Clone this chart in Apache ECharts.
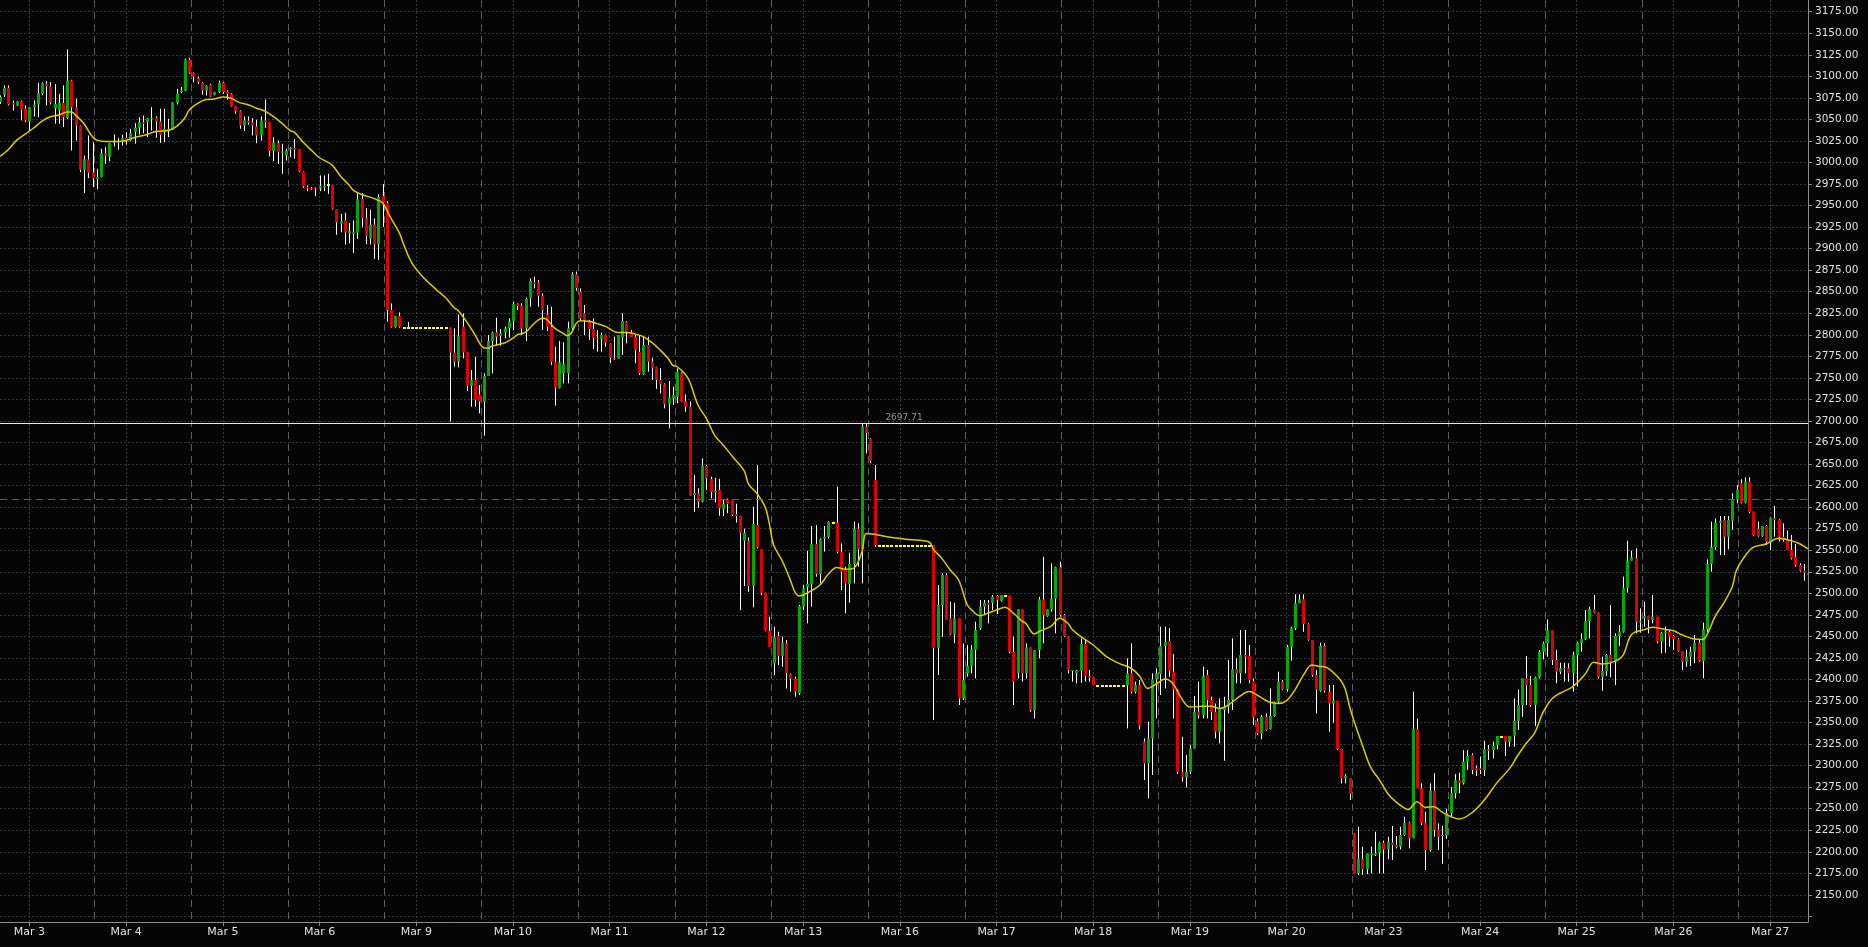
<!DOCTYPE html>
<html><head><meta charset="utf-8">
<script src="https://cdn.jsdelivr.net/npm/echarts@6.0.0/dist/echarts.min.js"></script>
<style>html,body{margin:0;padding:0;background:#050505;}#c{width:1868px;height:947px;}</style>
</head><body><div id="c"></div>
<script>
// ---- DATA ----
const dayLabels = ['Mar 3','Mar 4','Mar 5','Mar 6','Mar 9','Mar 10','Mar 11','Mar 12','Mar 13','Mar 16','Mar 17','Mar 18','Mar 19','Mar 20','Mar 23','Mar 24','Mar 25','Mar 26','Mar 27'];
const firstLabelBar = 7;   // bar index carrying the first date label
const barsPerDay = 23;     // hourly bars per session
const yTickValues = {min: 2125, max: 3175, step: 25};
const refLevel = 2697.71;  // solid white level line
const dashLevel = 2609;    // long-dash level line

// hourly bars [open, high, low, close]
const LD1 = [2808.3,2808.3,2808.3,2808.3];
const LD2 = [2555.2,2555.2,2555.2,2555.2];
const LD3 = [2392.4,2392.4,2392.4,2392.4];
const bars = [
// session 0 (Mar 3)
[3070,3077.8,3068.1,3075.9],[3078.9,3089.4,3075.9,3086.7],[3086.7,3089.4,3066.2,3067.3],[3068.9,3072,3060.4,3067.3],
[3066.2,3071.5,3065.5,3070.8],[3070.8,3072,3048.8,3061.1],[3062.3,3066.2,3046.8,3048.8],[3047.6,3064.5,3036.4,3064.2],
[3064.2,3072,3053.4,3067.3],[3067.3,3092.5,3052.6,3080.5],[3079.7,3092.9,3078,3092.1],[3091.3,3094.4,3066.2,3088.6],
[3088.2,3093.3,3067.3,3070],[3063,3091,3045,3068],[3060.4,3079.7,3044.9,3069.7],[3068.9,3089.4,3041,3052.6],
[3051.5,3131.2,3050.3,3095.2],[3095.2,3096,3013.9,3064.2],[3064.2,3073.9,3025.5,3043],[3042.2,3043,2988.8,2991.5],
[2991.5,3008.1,2964.4,3003.5],[3003.5,3031.3,2981.8,2988],[2988.8,3023.6,2971.4,2981.8],
// session 1 (Mar 4)
[2981,2992.6,2969,2983],[2983,3015.9,2983,3010.8],[3010.1,3017.8,2998.4,3008.1],[3007,3022.8,3001.5,3022.4],
[3023.6,3032.5,3018.6,3025.5],[3024.8,3028.6,3014.7,3023.6],[3024.8,3032.1,3019.7,3028.3],[3028.3,3035.2,3020.9,3025.5],
[3025.5,3039.1,3024.4,3034.1],[3035.6,3045.7,3021.7,3040.2],[3040.2,3052.6,3032.5,3046.8],[3046.8,3054.4,3034.1,3044.9],
[3046.8,3051.5,3029.4,3051.1],[3050.7,3064.2,3037.1,3051.9],[3051.9,3053.4,3028.6,3047.6],[3047.6,3062.3,3022.8,3032.1],
[3035.2,3062.3,3023.6,3039.1],[3037.9,3050.7,3029.4,3039.1],[3038.7,3070,3037.9,3069.7],[3069.7,3085.5,3067.3,3079.7],
[3081.7,3087.5,3080.5,3083.6],[3083.6,3120.4,3082.8,3119.2],[3119.2,3121.5,3102.9,3104.1],
// session 2 (Mar 5)
[3104.1,3104.5,3093,3099.8],[3097.9,3099.8,3091.3,3093.3],[3092.5,3093.3,3078.9,3083.6],[3083.6,3089.4,3077.8,3089.4],
[3090.2,3091.3,3075.9,3076.6],[3078.6,3082,3078,3081.7],[3081.7,3095.2,3080.5,3092.5],[3092.5,3093.3,3079.7,3081.7],
[3082.4,3083.6,3072.8,3079.7],[3079.7,3080.5,3065,3065.4],[3065,3065,3056.5,3059.6],[3059.6,3060.4,3039.1,3043],
[3043,3053.4,3036.4,3048.8],[3048.8,3053.4,3043.8,3046.8],[3046.8,3051.5,3031.3,3043],[3041.8,3049.5,3022.4,3031.3],
[3031.3,3053.4,3025.5,3048.8],[3048.8,3073.1,3040.2,3046.8],[3046.8,3046.8,3007,3013.2],[3013.2,3029.4,3001.5,3023.2],
[3022.4,3025.5,2998.4,3012],[3011.2,3021.7,2986.8,3012.8],[3008.1,3015.9,3002.3,3013.9],
// session 3 (Mar 6)
[3015.1,3017.8,3006.2,3017],[3017,3027.1,3004.3,3015.1],[3015.1,3015.1,2988.8,2989.9],[2989.5,2989.5,2970.6,2972.1],
[2971.4,2973.3,2966.7,2969.4],[2970.2,2971.4,2968,2968.7],[2971.4,2971.4,2960.9,2969.4],[2970.2,2984.9,2966.7,2972.9],
[2971.4,2984.9,2966.7,2973.3],[2973.3,2986.8,2963.6,2973.3],[2973.3,2973.3,2945.4,2946.2],[2945.4,2945.4,2916,2930.7],
[2928.8,2940.4,2919.1,2931.9],[2932.7,2941.6,2904.8,2919.1],[2917.9,2929.6,2906.3,2920.3],[2917.2,2932.7,2895.1,2919.1],
[2918.7,2964.4,2911.4,2957],[2957.8,2964.4,2924.9,2935.4],[2935,2947,2905,2915],[2912,2945,2905,2928],
[2928,2935,2888,2905],[2905,2963,2887,2960],[2961,2975,2925,2953],
// session 4 (Mar 9)
[2953,2955,2815.2,2828.8],[2828.8,2836.5,2808.3,2809.4],[2809.4,2822,2808.3,2821.8],[2821.8,2826,2808.3,2809.4],
LD1,[2808.3,2815,2808.3,2808.3],LD1,LD1,LD1,LD1,LD1,LD1,LD1,LD1,LD1,
[2808.3,2808.3,2699.2,2779.6],[2779.6,2807.5,2763,2768.8],[2768.8,2823.7,2762.2,2799],[2809.4,2824.9,2772.7,2779.6],
[2779.6,2779.6,2734.7,2740.9],[2740.9,2759.1,2716.6,2747.5],[2747.5,2774.6,2716.6,2724.3],[2731,2741.7,2708.8,2722.4],
// session 5 (Mar 10)
[2722.4,2755.3,2682.9,2752.2],[2752.2,2799.7,2752.2,2792.8],[2792.8,2803.6,2755.3,2802.8],[2802.8,2819.9,2787.4,2797.8],
[2798.6,2806.7,2787.4,2801.7],[2802.8,2809.4,2795.9,2807.5],[2807.5,2819.1,2796.7,2815.2],[2816,2838.4,2805.5,2835.7],
[2835.7,2836.5,2828.8,2833.8],[2833.4,2836.5,2799.7,2807.5],[2807.5,2843.1,2792.8,2841.5],[2842.3,2865.5,2832.6,2862.4],
[2860.9,2867.4,2853.9,2858.9],[2860.9,2863.6,2832.6,2845],[2845.4,2848.1,2805.5,2828.8],[2823.7,2834.6,2804.4,2809.4],
[2809.4,2832.6,2764.9,2768.8],[2768.8,2786.2,2717.7,2738.6],[2738.6,2792.8,2737.8,2768],[2755.3,2791.2,2743.6,2765.7],
[2755.3,2815.2,2743.6,2807.5],[2807.5,2872.5,2805.5,2870.2],[2870.2,2873.3,2851.2,2853.9],
// session 6 (Mar 11)
[2850,2853.9,2816,2819.1],[2824.9,2834.6,2799.7,2817.2],[2816.4,2817.2,2794,2806.7],[2806.7,2819.1,2783.5,2795.9],
[2795.9,2805.5,2780.4,2794.7],[2795.1,2802.5,2780.4,2799.7],[2799.7,2800.5,2786.2,2791.2],[2790.1,2790.1,2766.9,2773.8],
[2772.7,2797.8,2770.7,2771.5],[2772.7,2799.7,2772.7,2799.7],[2796.7,2824.9,2776.5,2816],[2815.2,2816,2790.1,2803.6],
[2802.8,2805.5,2797.8,2797.8],[2797.8,2799.7,2766.9,2782.3],[2780.4,2799.7,2753.3,2755.3],[2754.1,2797.8,2753.3,2788.1],
[2788.1,2797.8,2757.2,2768.8],[2768.8,2773.4,2747.5,2761.8],[2762.6,2763,2737.1,2747.5],[2747.5,2761.1,2732,2742.5],
[2742.5,2743.6,2714.6,2719.3],[2720.4,2746.4,2691.4,2727],[2726.2,2739.8,2718.5,2730.1],
// session 7 (Mar 12)
[2728.2,2761.1,2720.4,2757.2],[2755.3,2756.4,2722.4,2722.4],[2722.4,2730.9,2710.8,2716.6],[2716.6,2722.4,2613.3,2613.3],
[2614,2637.2,2594.7,2616],[2616,2621.8,2599.3,2606.3],[2606.3,2656.6,2605.5,2647.7],[2647.7,2648.9,2619.8,2633.4],
[2632.6,2635.3,2610.2,2617.9],[2617.1,2634.2,2605.5,2618.7],[2619.8,2632.6,2590.1,2598.6],[2597.4,2609,2589.7,2603.6],
[2609,2610,2592.8,2603.6],[2609,2609.5,2589.7,2590.8],[2591.6,2604,2582,2589.7],[2589.7,2590,2480.6,2570.3],
[2561,2575,2508.4,2570.3],[2561,2565,2501.8,2508.4],[2508.4,2600.5,2483.7,2580.4],[2579.2,2648.9,2552.1,2553.3],
[2551,2551,2498,2500.7],[2500.7,2500.7,2456,2456.6],[2456.6,2472.8,2438,2438],
// session 8 (Mar 13)
[2418.7,2461.2,2405.1,2449.6],[2450.4,2455.4,2416.7,2427.2],[2427.2,2449.6,2414.8,2441.9],[2441.9,2445.7,2389.6,2407.1],
[2406.3,2407.1,2385.8,2401.2],[2401.2,2403.2,2380,2385.8],[2383.8,2486.4,2381.9,2485.2],[2485.2,2509.6,2480.6,2505.7],
[2507.6,2549.4,2465.1,2510.7],[2510.7,2578.1,2484.4,2557.2],[2557.2,2579.2,2519.2,2522.4],[2522.4,2563.7,2511.5,2562.6],
[2563.7,2578.1,2548.3,2565.7],[2565.7,2583.5,2563.7,2582.7],[2581.9,2583.1,2580.4,2581.9],[2581.9,2623.7,2546.3,2548.3],
[2548.3,2557.9,2503.8,2525.1],[2527,2530.9,2476.7,2511.5],[2510.7,2547.1,2489.1,2533.9],[2533.9,2583.1,2511.5,2575],
[2575,2581.2,2530.9,2551],[2551,2697.71,2511.5,2693.4],[2693.4,2697.2,2662.4,2686.4],
// session 9 (Mar 16)
[2679,2679.8,2650.8,2653.9],[2631.5,2648.9,2554.1,2556],
LD2,LD2,LD2,LD2,LD2,LD2,LD2,LD2,LD2,LD2,LD2,LD2,LD2,
[2556,2556,2352.9,2436.1],[2436.1,2509.6,2405.1,2486.4],[2486.4,2523.1,2449.6,2521.2],[2521.2,2523.1,2469.7,2469.7],
[2470.9,2490.2,2451.5,2452.3],[2452.3,2489.1,2441.9,2470.9],[2470.9,2470.9,2370.3,2378],[2378,2441.9,2376.1,2399.3],
// session 10 (Mar 17)
[2407.1,2439.9,2403.2,2415.6],[2415.6,2439.9,2407.1,2434.1],[2434.1,2467,2401.2,2457.4],[2459.3,2492.2,2457.4,2484.4],
[2484.4,2492.2,2475.9,2489.1],[2489.1,2492.2,2465.1,2486.4],[2489.1,2498,2480.6,2496],[2496.8,2498,2475.9,2492.2],
[2491.4,2498,2490.2,2498],[2497.2,2498,2496,2497.2],[2497.2,2497.2,2430.3,2432.2],[2432.2,2449.6,2370.3,2397.4],
[2407.1,2481.4,2401.2,2481.4],[2481.4,2481.4,2397.4,2407.1],[2407.1,2441.9,2401.2,2437.2],[2437.2,2437.2,2362.6,2364.5],
[2364.5,2434.1,2354.8,2434.1],[2434.1,2496,2424.5,2492.9],[2492.9,2542.5,2441.9,2474.8],[2473.6,2481.4,2472.8,2481.4],
[2481.4,2534.7,2478.6,2494.1],[2494.1,2530.9,2453.5,2530.1],[2530.1,2536.7,2472.8,2474.8],
// session 11 (Mar 18)
[2474.8,2476,2449.6,2450.4],[2450.4,2450.4,2407.1,2410.9],[2410.1,2411,2397.4,2411],[2407.1,2411,2395.4,2410.1],
[2410.2,2447.7,2396.2,2441.1],[2441.1,2445.8,2397.4,2404],[2404,2410.9,2397.4,2402.4],[2402.4,2402.4,2393.5,2393.5],
LD3,LD3,LD3,LD3,LD3,LD3,LD3,
[2393.5,2424.5,2343.2,2407.1],[2407.1,2441.9,2383.8,2385.8],[2385.8,2397.4,2383.8,2393.5],[2393.5,2399.3,2342.1,2346.3],
[2327.7,2331.6,2283.3,2302.6],[2302.6,2351,2262,2331.6],[2331.6,2407.1,2289.1,2400.1],[2400.1,2412.9,2354.8,2407.1],
// session 12 (Mar 19)
[2406.3,2461.2,2381.9,2438.8],[2438.8,2461.2,2389.6,2443.8],[2444.6,2459.3,2403.2,2410.2],[2409,2429.5,2354.8,2388.5],
[2388.5,2388.5,2290.2,2292.9],[2292.9,2333.5,2281.3,2286.4],[2286.4,2312.3,2274.7,2292.9],[2292.9,2323.9,2290.2,2320],
[2320,2380.8,2320,2362.6],[2362.6,2397.4,2354.8,2358.7],[2358.7,2414.8,2354.8,2404],[2405.1,2410.9,2354.8,2376.1],
[2376.1,2380,2352.9,2362.6],[2362.6,2372.2,2331.6,2339.4],[2339.4,2378,2325.8,2366.4],[2364.5,2380,2305.7,2368.4],
[2368.4,2422.5,2360.6,2376.1],[2376.1,2447.7,2364.5,2411.7],[2411.7,2424.5,2395.5,2407.1],[2407.1,2457.4,2395.5,2428.3],
[2428.3,2457.4,2407.1,2426.4],[2427.2,2440,2395.5,2399.3],[2398.2,2401.3,2347.1,2356],
// session 13 (Mar 20)
[2352.1,2354.8,2335.5,2337.4],[2337.4,2358.7,2330.5,2356.8],[2356.8,2360.6,2340.5,2341.3],[2342.1,2389.6,2342.1,2357.5],
[2357.5,2374.2,2356.8,2374.2],[2374.2,2409,2372.2,2397.4],[2397.4,2399.3,2387.7,2388.5],[2388.5,2440,2385.8,2438],
[2438,2461.2,2421.8,2459.3],[2459.3,2498.8,2457.4,2488.3],[2488.3,2498.8,2488.3,2493],[2493,2498.8,2455.4,2464.3],
[2464.3,2465.1,2445,2445.8],[2445.8,2445.8,2403.2,2405.1],[2405.1,2410.9,2360.6,2387.7],[2387,2442.7,2385.8,2438.8],
[2438.8,2441.9,2384.6,2387],[2385.8,2393.5,2339.4,2372.2],[2372.2,2393.5,2349.8,2375.3],[2375.3,2375.3,2318.1,2319.2],
[2319.2,2319.2,2279.4,2285.2],[2285.2,2290.2,2279.4,2287.9],[2285.2,2285.2,2260,2267],
// session 14 (Mar 23)
[2221.4,2221.4,2174.9,2174.9],[2174.9,2229.1,2173,2191.2],[2191.2,2205.9,2173,2179.6],[2179.6,2198.1,2174.1,2198.1],
[2196.2,2205.9,2174.9,2198.1],[2196.2,2223.3,2195,2198.1],[2198.9,2211.7,2174.9,2210.5],[2210.5,2212.8,2174.9,2202.8],
[2202.8,2217.5,2191.2,2211.7],[2210.5,2229.9,2190.4,2207.8],[2207.8,2218.3,2203.9,2205.9],[2205.9,2229.1,2202.8,2219.4],
[2219.4,2240.7,2218.3,2233.7],[2233.7,2234.9,2203.9,2215.6],[2215.6,2385.8,2215.6,2343.2],[2342.1,2354.8,2273.6,2273.6],
[2273.6,2279.4,2231,2233],[2233,2246.5,2178.8,2202],[2202,2279.4,2200.1,2270.9],[2270.9,2291,2217.5,2225.2],
[2226,2233,2202,2217.5],[2218,2230,2186,2219.6],[2219,2250,2215,2245],
// session 15 (Mar 24)
[2245,2275,2240,2268],[2268,2290,2262,2283],[2283,2292,2268,2280],[2280,2318,2278,2304.6],
[2304.6,2318.1,2295,2311.1],[2312.3,2314.2,2290,2295],[2297,2300,2288,2294],[2296.8,2310.4,2290,2294.9],
[2294.9,2328.9,2288,2318.9],[2318.9,2323.9,2306.5,2317.3],[2318.1,2327.8,2308.4,2322.8],[2323.9,2334.4,2318.9,2334.4],
[2333.6,2334,2333,2333.6],[2334.4,2334.4,2311.1,2327.8],[2327.8,2334.4,2322,2334.4],[2334.4,2378.1,2322,2352.2],
[2352.2,2388.5,2341.3,2370.3],[2370.3,2401.3,2356.8,2401.3],[2401.3,2427.2,2370.3,2393.5],[2393.5,2404,2368.4,2370.3],
[2370.3,2403.2,2345.9,2402.4],[2403.2,2434.2,2401.3,2432.2],[2432.2,2443.8,2423.3,2441.9],
// session 16 (Mar 25)
[2441.9,2469.7,2426.4,2457.4],[2457.4,2457.4,2416.8,2422.6],[2422.6,2434.2,2395.5,2409],[2409,2419.5,2406.3,2412.9],
[2412.9,2419.5,2397.4,2411.7],[2412.9,2418.7,2397.4,2407.1],[2407.1,2432.2,2385.8,2428.4],[2428.4,2443.8,2391.6,2442.7],
[2442.7,2453.5,2432.2,2446.6],[2446.6,2480.6,2445.8,2467.8],[2467.8,2484.5,2447.7,2481.4],[2481.4,2498,2476.7,2477.5],
[2477.5,2477.5,2401.3,2403.2],[2403.2,2426.4,2387,2409.8],[2409.8,2429.5,2404,2428.4],[2428.4,2486.4,2402.4,2420.6],
[2420.6,2453.5,2393.5,2450.4],[2450.4,2463.2,2438.8,2455.4],[2455.4,2519.3,2454.3,2505.8],[2505.8,2561.1,2500.7,2537.9],
[2537.9,2549.5,2537.9,2541.7],[2540.6,2552.2,2453.5,2467.1],[2466.3,2482.5,2454.3,2468.2],
// session 17 (Mar 26)
[2470.9,2490.3,2461.3,2473.6],[2473.6,2473.6,2453.5,2469],[2469,2498,2465.1,2472.8],[2472.8,2472.8,2441.9,2443.8],
[2443.8,2455.5,2430.3,2454.3],[2453.5,2461.3,2431.1,2455.5],[2455.5,2457.4,2438,2449.7],[2450.4,2451.6,2434.2,2446.6],
[2446.6,2447.7,2432.2,2433],[2433,2433,2411,2420.6],[2420.6,2434.2,2414.8,2426.4],[2426.4,2438,2415.6,2432.2],
[2432.2,2451.6,2418.7,2442.7],[2442.7,2446.6,2420.6,2421.8],[2421.8,2465.9,2401.3,2458.2],[2458.2,2539.4,2455,2534],
[2534,2583.1,2525.1,2553.3],[2553.3,2587,2550.3,2582],[2582,2589.7,2544.4,2584.3],[2585.1,2589.7,2544.4,2565.7],
[2565.7,2589.7,2551,2585.1],[2584.3,2616,2573.5,2609.1],[2609.1,2625.7,2604.4,2619.9],
// session 18 (Mar 27)
[2627.6,2632.3,2604.4,2605.2],[2605.2,2634.6,2604.4,2629.6],[2629.6,2634.6,2592.8,2594.7],[2594.7,2594.7,2566.9,2567.7],
[2575,2583.1,2565.7,2566.5],[2566.5,2578.1,2565.7,2578.1],[2578.1,2579.3,2556,2559.9],[2559.9,2587.8,2550.3,2587.8],
[2587,2601.3,2565.7,2585.1],[2585.1,2585.8,2559.9,2565.7],[2565.7,2581.2,2559.9,2561.9],[2561.9,2572.7,2550.2,2550.2],
[2550.2,2567.7,2539.4,2540.6],[2541.7,2557.2,2530.9,2532.8],[2532.8,2534.8,2525.1,2526.3],[2526.3,2534,2514.6,2523.9],
[2524,2527,2518,2521]
];

// moving-average line: [bar index, value]
const maPoints = [
[0,3007],[2,3015],[4,3026],[6,3033],[8,3040],[10,3048],[12,3053],[14,3055],[16,3058.5],[17,3058.5],[18,3055],[20,3045],
[21,3037],[22,3030],[23,3026],[25,3024.4],[28,3024.4],[30,3025.5],[32,3029],[35,3032.5],[37,3036],[40,3037],[42,3041.8],
[44,3052],[45,3061],[47,3068.5],[49,3073],[51,3073.8],[53,3075.9],[55,3074.5],[57,3069.5],[59,3067],[61,3063],[63,3059.6],
[65,3053.4],[67,3045.7],[69,3037],[70,3035.2],[72,3024],[74,3014.5],[76,3005.5],[79,2997],[81,2984],[83,2974],[84,2968],
[86,2962.8],[89,2958],[91,2953],[93,2935],[95,2918],[96,2905],[98,2883],[101,2865],[104,2851.5],[106,2843],[108,2831.5],
[109,2828],[111,2815],[113,2799.7],[115,2785],[116,2784.5],[117,2787],[120,2790.5],[122,2796],[123,2800],[125,2803],
[127,2813],[129,2819.1],[130,2818],[132,2807.5],[134,2801.5],[135,2799],[136,2803],[137,2813],[138,2816.2],[140,2815.8],
[142,2813],[144,2809.8],[147,2802.8],[149,2802.8],[151,2801],[153,2797.8],[155,2791.2],[157,2782.3],[159,2772],[160,2764.5],
[161,2763.2],[163,2754],[164,2746],[166,2718.5],[168,2703],[170,2683],[172,2672],[174,2660],[177,2642],[178,2627],
[180,2616],[182,2600],[183,2580],[184,2556],[186,2538],[188,2515],[189,2502],[190,2497],[191,2498],[193,2503],[195,2509.6],
[197,2522],[199,2530],[201,2528],[203,2529],[205,2548],[206,2569.5],[208,2568.5],[211,2565.7],[216,2562.5],[221,2559.5],
[222,2551],[224,2540.5],[226,2527],[228,2515.4],[230,2487],[231,2481],[233,2474],[235,2477],[237,2480.6],[239,2483.7],
[241,2477],[243,2468],[244,2465],[246,2452.7],[247,2455.4],[250,2462],[252,2470.9],[254,2465],[255,2458],[257,2450],
[260,2440],[263,2427.2],[266,2419],[269,2413],[271,2404],[273,2389.6],[275,2394.7],[277,2400.5],[279,2395],[281,2378],
[283,2368],[286,2369],[288,2369],[290,2366.4],[292,2370],[295,2381],[297,2386],[298,2384.6],[300,2379],[302,2373.5],
[304,2372.2],[306,2375.5],[308,2388],[310,2405],[312,2416.7],[314,2415],[315,2414.8],[317,2408.5],[319,2398],[320,2388],
[321,2368],[322,2352],[324,2324],[326,2298],[328,2284],[330,2268],[332,2258],[335,2249],[336,2254],[337,2258],[339,2251.5],
[341,2252.3],[343,2246],[345,2241],[347,2238],[350,2245],[353,2260],[356,2280],[359,2296.5],[361,2312],[363,2326],
[365,2338],[367,2362],[369,2377],[371,2384],[374,2391.5],[377,2406],[379,2420],[381,2418],[384,2421],[386,2428],[388,2452],
[391,2457.8],[393,2460.5],[396,2458],[398,2456.6],[400,2451.8],[403,2447],[405,2446.5],[406,2452],[408,2474],[410,2489],
[412,2508],[413,2527],[415,2543],[417,2553.5],[420,2557.2],[423,2563.8],[426,2561],[428,2557.5],[430,2551.5]
];

// ---- LAYOUT ----
const W = 1868, H = 947;
const plotRight = 1808;     // right edge of plot (price axis line)
const xAxisY = 922;         // x axis line
const yTopPx = 11.7;        // pixel of 3175
const yBotPx = 916.4;       // pixel of 2125

const N = bars.length;
const cats = bars.map((b, i) => String(i));
const halfCats = Array.from({length: 2 * N - 1}, (_, i) => String(i));
const isLabelIdx = (i) => i >= firstLabelBar && (i - firstLabelBar) % barsPerDay === 0;
const labelFor = (i) => isLabelIdx(i) ? (dayLabels[(i - firstLabelBar) / barsPerDay] || '') : '';

const candleData = bars.map((b, i) => [i, b[0], b[3], b[2], b[1]]);

const UP = '#00a800', DOWN = '#dc0000', DOJI = '#ffff00', WICK = '#ffffff';

function renderCandle(params, api) {
  const x = api.value(0), o = api.value(1), c = api.value(2), l = api.value(3), h = api.value(4);
  const pO = api.coord([x, o]), pC = api.coord([x, c]), pL = api.coord([x, l]), pH = api.coord([x, h]);
  const r = Math.round(pO[0]);
  const children = [];
  if (h > l) {
    children.push({type: 'line', shape: {x1: r + 0.5, y1: pH[1], x2: r + 0.5, y2: pL[1]},
      style: {stroke: WICK, lineWidth: 1}});
  }
  if (o === c) {
    children.push({type: 'rect', shape: {x: r - 1, y: Math.round(pO[1]) - 1, width: 3, height: 2},
      style: {fill: DOJI}});
  } else {
    const top = Math.min(pO[1], pC[1]);
    const hgt = Math.max(1, Math.abs(pO[1] - pC[1]));
    children.push({type: 'rect', shape: {x: r - 1, y: top, width: 3, height: hgt},
      style: {fill: c > o ? UP : DOWN}});
  }
  return {type: 'group', children};
}

const gridLine = {color: '#373737', type: [2, 2], width: 1};
const axisCol = '#8c8c8c';
const txtCol = '#e0e0e0';
const FONT = 'DejaVu Sans';

const option = {
  backgroundColor: '#050505',
  animation: false,
  grid: [
    {left: 0, right: W - plotRight, top: yTopPx, bottom: H - yBotPx},
    {left: 0, right: W - plotRight, top: 0, bottom: H - xAxisY}
  ],
  xAxis: [
    {type: 'category', gridIndex: 0, data: cats, boundaryGap: false, show: false},
    {type: 'category', gridIndex: 1, data: cats, boundaryGap: false,
      axisLine: {show: true, lineStyle: {color: axisCol}},
      axisTick: {show: true, interval: isLabelIdx, length: 4, lineStyle: {color: axisCol}},
      axisLabel: {interval: isLabelIdx, formatter: (v, i) => labelFor(Number(v)), color: txtCol, fontSize: 11, fontFamily: FONT, margin: 5},
      splitLine: {show: true, interval: isLabelIdx, lineStyle: gridLine}},
    {type: 'category', gridIndex: 1, data: halfCats, boundaryGap: false,
      axisLine: {show: false}, axisTick: {show: false}, axisLabel: {show: false},
      splitLine: {show: true, interval: (i) => i % (2 * barsPerDay) === 2 * barsPerDay - 1,
        lineStyle: {color: '#5e5e5e', type: [7, 5], width: 1}}}
  ],
  yAxis: [
    {type: 'value', gridIndex: 0, min: yTickValues.min, max: yTickValues.max, interval: yTickValues.step, position: 'right',
      axisLine: {show: false},
      axisTick: {show: true, length: 4, lineStyle: {color: axisCol}},
      axisLabel: {formatter: (v) => v < 2150 ? '' : v.toFixed(2), color: txtCol, fontSize: 10.5, fontFamily: FONT, margin: 7},
      splitLine: {show: true, lineStyle: gridLine}},
    {type: 'value', gridIndex: 1, min: 0, max: 1, position: 'right',
      axisLine: {show: true, lineStyle: {color: axisCol}}, axisTick: {show: false}, axisLabel: {show: false}, splitLine: {show: false}}
  ],
  series: [
    {type: 'custom', xAxisIndex: 0, yAxisIndex: 0, data: candleData, renderItem: renderCandle,
      encode: {x: 0, y: [1, 2, 3, 4]}, clip: true, z: 3,
      markLine: {silent: true, symbol: ['none', 'none'], animation: false,
        data: [
          {yAxis: refLevel, lineStyle: {color: '#e8e8e8', type: 'solid', width: 1},
            label: {show: true, formatter: '2697.71', position: 'insideMiddleTop', distance: 1, color: '#959595', fontSize: 9, fontFamily: FONT}},
          {yAxis: dashLevel, lineStyle: {color: '#5e5e5e', type: [7, 5], width: 1}, label: {show: false}}
        ]}},
    {type: 'line', xAxisIndex: 0, yAxisIndex: 0, data: maPoints, showSymbol: false, smooth: 0.35,
      lineStyle: {color: '#dccb00', width: 1.5}, z: 4, silent: true}
  ]
};

const chart = echarts.init(document.getElementById('c'), null, {renderer: 'canvas', width: W, height: H});
chart.setOption(option);
</script></body></html>
